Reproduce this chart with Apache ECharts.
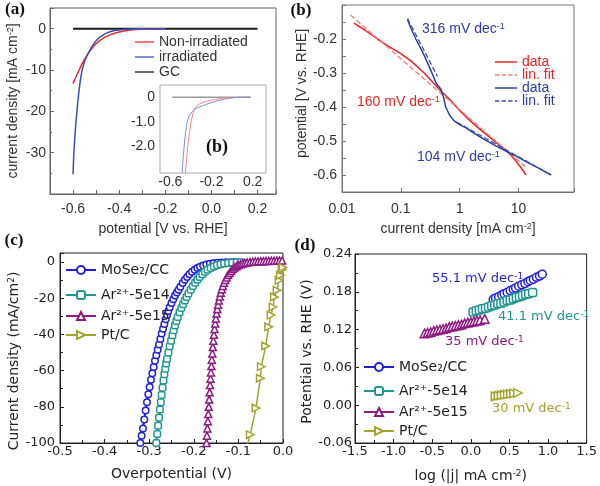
<!DOCTYPE html>
<html><head><meta charset="utf-8">
<script src="https://cdn.jsdelivr.net/npm/echarts@6/dist/echarts.min.js"></script>
<style>html,body{margin:0;padding:0;background:#fff}#c{width:600px;height:486px}</style>
</head><body><div id="c"></div>
<script>
// ---------- Panel (a): LSV curves ----------
const aRedV  = [-0.6, -0.59, -0.58, -0.57, -0.56, -0.55, -0.54, -0.53, -0.52, -0.51, -0.5, -0.48, -0.46, -0.44, -0.42, -0.4, -0.38, -0.36, -0.34, -0.32, -0.3, -0.28, -0.25, -0.2];
const aRedJ  = [-13.3, -12.0, -10.8, -9.6, -8.4, -7.4, -6.5, -5.6, -4.9, -4.2, -3.6, -2.7, -2.0, -1.5, -1.1, -0.8, -0.55, -0.38, -0.25, -0.16, -0.1, -0.06, -0.03, -0.01];
const aBlueV = [-0.6, -0.598, -0.595, -0.59, -0.585, -0.58, -0.575, -0.57, -0.565, -0.56, -0.55, -0.54, -0.53, -0.52, -0.51, -0.5, -0.49, -0.48, -0.46, -0.44, -0.42, -0.4, -0.38, -0.35, -0.32, -0.28, -0.2];
const aBlueJ = [-35.2, -32.0, -28.5, -24.5, -21.0, -18.0, -15.4, -13.2, -11.3, -9.9, -7.9, -6.6, -5.5, -4.5, -3.6, -2.9, -2.3, -1.9, -1.2, -0.75, -0.45, -0.3, -0.19, -0.1, -0.05, -0.02, 0];
const aGCV   = [-0.6, 0.2];
const aGCJ   = [0, 0];
// inset of (a)
const inRedV  = [-0.453, -0.44, -0.43, -0.414, -0.4, -0.382, -0.366, -0.35, -0.32, -0.28, -0.237, -0.18, -0.11, -0.05, 0.0, 0.18];
const inRedJ  = [-3.1, -2.45, -2.0, -1.45, -1.05, -0.7, -0.5, -0.38, -0.28, -0.21, -0.16, -0.1, -0.05, -0.02, -0.01, 0];
const inBlueV = [-0.485, -0.475, -0.465, -0.453, -0.44, -0.425, -0.414, -0.39, -0.366, -0.33, -0.28, -0.237, -0.18, -0.12, -0.045, 0.02, 0.1, 0.18];
const inBlueJ = [-3.1, -2.5, -2.0, -1.5, -1.1, -0.85, -0.74, -0.6, -0.5, -0.42, -0.34, -0.27, -0.19, -0.12, -0.06, -0.02, 0, 0];
const inGCV   = [-0.58, 0.18];
const inGCJ   = [0, 0];

// ---------- Panel (b): Tafel (log current) ----------
const bRedJ   = [0.016, 0.025, 0.04, 0.06, 0.1, 0.15, 0.25, 0.45, 0.7, 1, 1.5, 2.2, 3.3, 5, 6.7, 9, 11, 13.5];
const bRedV   = [-0.153, -0.175, -0.2, -0.22, -0.243, -0.265, -0.3, -0.348, -0.38, -0.41, -0.44, -0.465, -0.49, -0.515, -0.533, -0.558, -0.578, -0.6];
const bRedFitJ = [0.014, 14];
const bRedFitV = [-0.13, -0.58];
const bBlueJ  = [0.13, 0.15, 0.18, 0.21, 0.26, 0.32, 0.4, 0.48, 0.53, 0.58, 0.68, 0.8, 1.0, 1.3, 1.8, 2.8, 4.2, 6.7, 10, 15, 22, 36];
const bBlueV  = [-0.143, -0.17, -0.2, -0.222, -0.255, -0.29, -0.33, -0.348, -0.37, -0.4, -0.425, -0.44, -0.452, -0.462, -0.478, -0.498, -0.515, -0.533, -0.548, -0.565, -0.58, -0.6];
const bBlueFit1J = [0.13, 0.42];
const bBlueFit1V = [-0.14, -0.31];
const bBlueFit2J = [0.9, 36];
const bBlueFit2V = [-0.445, -0.6];

// ---------- Panel (c): polarization curves ----------
const cMoV = [-0.320, -0.317, -0.314, -0.311, -0.308, -0.305, -0.302, -0.299, -0.296, -0.293, -0.290, -0.287, -0.284, -0.281, -0.278, -0.275, -0.272, -0.269, -0.266, -0.263, -0.260, -0.257, -0.254, -0.250, -0.246, -0.242, -0.238, -0.234, -0.230, -0.225, -0.220, -0.215, -0.210, -0.204, -0.198, -0.192, -0.186, -0.179, -0.172, -0.164, -0.156, -0.147, -0.138, -0.128, -0.118, -0.108];
const cMoJ = [-100, -96, -92, -87, -82, -77.5, -73, -69, -65, -61.5, -58, -54.5, -51.5, -48.5, -45.5, -42.5, -39.5, -36.8, -34.2, -31.6, -29.2, -27, -25, -22.7, -20.5, -18.5, -16.8, -15.3, -13.6, -11.6, -9.8, -8.2, -6.8, -5.4, -4.2, -3.3, -2.6, -1.9, -1.4, -1.0, -0.7, -0.45, -0.28, -0.15, -0.07, -0.02];
const c14V = [-0.284, -0.282, -0.280, -0.278, -0.276, -0.274, -0.272, -0.270, -0.268, -0.266, -0.264, -0.262, -0.260, -0.257, -0.254, -0.251, -0.248, -0.245, -0.242, -0.239, -0.236, -0.232, -0.228, -0.224, -0.220, -0.216, -0.212, -0.207, -0.202, -0.197, -0.192, -0.187, -0.181, -0.175, -0.169, -0.162, -0.155, -0.148, -0.140, -0.132, -0.123, -0.114, -0.104, -0.094];
const c14J = [-100, -95, -90.5, -86, -81.5, -77.5, -73.5, -69.5, -65.5, -62, -59, -56, -53.5, -50, -46.5, -43.5, -40.5, -37.7, -35, -32.6, -30.4, -27.8, -25.4, -23.3, -21.2, -19.3, -17.4, -15.3, -13.3, -11.4, -9.7, -8.2, -6.7, -5.4, -4.3, -3.3, -2.4, -1.8, -1.2, -0.8, -0.5, -0.3, -0.15, -0.05];
const c15V = [-0.1715, -0.1705, -0.1695, -0.1685, -0.1675, -0.1665, -0.1655, -0.1645, -0.1635, -0.1625, -0.1615, -0.1605, -0.1595, -0.1585, -0.1573, -0.1561, -0.1549, -0.1535, -0.1520, -0.1505, -0.1490, -0.1473, -0.1455, -0.1436, -0.1416, -0.1395, -0.1372, -0.1348, -0.1322, -0.1294, -0.1264, -0.1232, -0.1198, -0.1162, -0.1124, -0.1084, -0.1042, -0.0998, -0.0952, -0.0904, -0.0854, -0.0802, -0.074, -0.068, -0.062, -0.056, -0.050, -0.044, -0.038, -0.032, -0.026, -0.020, -0.014, -0.008, -0.002];
const c15J = [-100, -96, -92, -88, -84, -80, -76, -72, -68, -64.5, -61, -57.5, -54, -50.5, -47, -43.5, -40.2, -37, -34, -31.2, -28.5, -26, -23.6, -21.3, -19.1, -17, -15, -13.2, -11.5, -9.9, -8.5, -7.2, -6, -4.9, -3.9, -3, -2.3, -1.7, -1.2, -0.8, -0.5, -0.25, 0, 0.2, 0.3, 0.4, 0.5, 0.5, 0.6, 0.6, 0.7, 0.7, 0.8, 0.8, 0.8];
const cPtV = [-0.081, -0.0734, -0.0606, -0.0509, -0.0487, -0.0389, -0.0322, -0.0269, -0.0224, -0.0194, -0.0135, -0.009, -0.006, -0.0022, 0.0];
const cPtJ = [-102, -95.4, -80.7, -64.2, -57.8, -46.4, -35.8, -29.3, -24.8, -19.3, -15.6, -10.1, -7.3, -4.2, -3.0];

// ---------- Panel (d): Tafel plots ----------
const dMoX = [0.29, 0.32, 0.36, 0.40, 0.43, 0.47, 0.51, 0.55, 0.58, 0.62, 0.66, 0.70, 0.74, 0.77, 0.81, 0.85, 0.89, 0.925];
const dMoY = [0.168, 0.170, 0.172, 0.175, 0.177, 0.179, 0.182, 0.184, 0.186, 0.189, 0.191, 0.193, 0.196, 0.198, 0.200, 0.203, 0.205, 0.208];
const d14X = [0.03, 0.07, 0.11, 0.15, 0.19, 0.23, 0.27, 0.31, 0.35, 0.39, 0.43, 0.47, 0.51, 0.55, 0.59, 0.63, 0.67, 0.71, 0.75, 0.80];
const d14Y = [0.148, 0.150, 0.151, 0.153, 0.154, 0.156, 0.158, 0.159, 0.161, 0.162, 0.164, 0.166, 0.167, 0.169, 0.171, 0.172, 0.174, 0.176, 0.177, 0.179];
const d15X = [-0.60, -0.56, -0.52, -0.48, -0.44, -0.40, -0.36, -0.32, -0.28, -0.24, -0.20, -0.16, -0.12, -0.08, -0.04, 0.00, 0.04, 0.08, 0.12, 0.18];
const d15Y = [0.114, 0.115, 0.116, 0.118, 0.119, 0.120, 0.121, 0.122, 0.124, 0.125, 0.126, 0.127, 0.128, 0.130, 0.131, 0.132, 0.133, 0.134, 0.135, 0.137];
const dPtX = [0.32, 0.36, 0.40, 0.44, 0.48, 0.52, 0.56, 0.61];
const dPtY = [0.0142, 0.0150, 0.0157, 0.0165, 0.0172, 0.0180, 0.0187, 0.0195];

// names / labels
const legendA = ['Non-irradiated', 'irradiated', 'GC'];
const namesC = ['MoSe\u2082/CC', 'Ar\u00B2\u207A-5e14', 'Ar\u00B2\u207A-5e15', 'Pt/C'];
const dNamesD = namesC.map(n => n + ' ');

const zip = (xs, ys) => xs.map((x, i) => [x, ys[i]]);
const F1 = 'Liberation Sans, Arial, sans-serif';
const F2 = 'DejaVu Sans, Verdana, sans-serif';
const FS = 'Liberation Serif, Times New Roman, serif';

const colA = {red: '#ec2a2a', blue: '#3b4fb8', gc: '#1a1a1a'};
const colB = {red: '#e52525', redFit: '#f07a7a', blue: '#2c3d9f', blueFit: '#3d4fb0'};
const colC = ['#1f1fd8', '#1f968f', '#8c1b82', '#a3a330'];
const symC = ['circle', 'roundRect', 'triangle', 'triangle'];
const rotC = [0, 0, 0, -90];

const supRich = (size) => ({sup: {fontSize: size, verticalAlign: 'top', lineHeight: size}});
const LINE_ICON = 'path://M0,0h30v2h-30z';
const DASH_ICON = 'path://M0,0h6v2h-6z M9,0h6v2h-6z M18,0h6v2h-6z M27,0h3v2h-3z';

function frameAxisStyle(color) {
  return {
    axisLine: {show: true, onZero: false, lineStyle: {color: color, width: 1}},
    axisTick: {show: true, inside: true, length: 4, lineStyle: {color: color}},
    splitLine: {show: false}
  };
}

const xAxes = [
  // 0: (a) main
  Object.assign({gridIndex: 0, type: 'value', min: -0.7, max: 0.28, interval: 0.1,
    axisLabel: {margin: 8, fontFamily: F1, fontSize: 14, color: '#333',
      formatter: v => { const k = Math.round(v * 10); return (k % 2 === 0 && k >= -6 && k <= 2) ? (k / 10).toFixed(1) : ''; }},
    name: 'potential [V vs. RHE]', nameLocation: 'middle', nameGap: 28,
    nameTextStyle: {fontFamily: F1, fontSize: 14, color: '#333'}}, frameAxisStyle('#666')),
  // 1: (a) inset
  {gridIndex: 1, type: 'value', min: -0.7, max: 0.33, interval: 0.1,
    axisLine: {show: false, onZero: false}, axisTick: {show: false}, splitLine: {show: false},
    axisLabel: {margin: 2, fontFamily: F1, fontSize: 14, color: '#333',
      formatter: v => { const k = Math.round(v * 10); return (k === -6 || k === -2 || k === 2) ? (k / 10).toFixed(1) : ''; }}},
  // 2: (b)
  Object.assign({gridIndex: 2, type: 'log', logBase: 10, min: 0.01, max: 88,
    axisLabel: {margin: 10, fontFamily: F1, fontSize: 14, color: '#333',
      formatter: v => { const l = Math.log10(v); const r = Math.round(l); if (Math.abs(l - r) > 1e-6 || r > 1) return ''; return ({'-2': '0.01', '-1': '0.1', '0': '1', '1': '10'})[String(r)]; }},
    name: 'current density [mA cm{sup|-2}]', nameLocation: 'middle', nameGap: 30,
    nameTextStyle: {fontFamily: F1, fontSize: 14, color: '#333', rich: supRich(9)}}, frameAxisStyle('#777')),
  // 3: (c)
  Object.assign({gridIndex: 3, type: 'value', min: -0.5, max: 0, interval: 0.1,
    minorTick: {show: true, splitNumber: 2, length: 3, lineStyle: {color: '#222'}},
    axisLabel: {margin: 2, fontFamily: F2, fontSize: 13, color: '#222', formatter: v => Math.abs(v) < 1e-9 ? '0.0' : v.toFixed(1)},
    name: 'Overpotential (V)', nameLocation: 'middle', nameGap: 24,
    nameTextStyle: {fontFamily: F2, fontSize: 14, color: '#222'}}, frameAxisStyle('#222')),
  // 4: (d)
  Object.assign({gridIndex: 4, type: 'value', min: -1.5, max: 1.5, interval: 0.5,
    minorTick: {show: true, splitNumber: 2, length: 3, lineStyle: {color: '#222'}},
    axisLabel: {margin: 2, fontFamily: F2, fontSize: 13, color: '#222', formatter: v => Math.abs(v) < 1e-9 ? '0.0' : v.toFixed(1)},
    name: 'log (|j| mA cm{sup|-2})', nameLocation: 'middle', nameGap: 26,
    nameTextStyle: {fontFamily: F2, fontSize: 14, color: '#222', rich: supRich(9)}}, frameAxisStyle('#222'))
];

const yAxes = [
  Object.assign({gridIndex: 0, type: 'value', min: -40, max: 5, interval: 10,
    minorTick: {show: true, splitNumber: 2, length: 2, lineStyle: {color: '#666'}},
    axisLabel: {margin: 4, fontFamily: F1, fontSize: 14, color: '#333', formatter: v => (v > 0.5 || v < -35) ? '' : String(Math.round(v))},
    name: 'current density [mA cm{sup|-2}]', nameLocation: 'middle', nameGap: 30,
    nameTextStyle: {fontFamily: F1, fontSize: 14, color: '#333', rich: supRich(9)}}, frameAxisStyle('#666')),
  {gridIndex: 1, type: 'value', min: -3.1, max: 0.5, interval: 0.1,
    axisLine: {show: false, onZero: false}, axisTick: {show: false}, splitLine: {show: false},
    axisLabel: {margin: 5, fontFamily: F1, fontSize: 14, color: '#333',
      formatter: v => { const r = Math.round(v); if (Math.abs(v - r) > 1e-6 || r > 0 || r < -2) return ''; return r === 0 ? '0' : r.toFixed(1); }}},
  Object.assign({gridIndex: 2, type: 'value', min: -0.65, max: -0.1, interval: 0.05,
    axisLabel: {margin: 5, fontFamily: F1, fontSize: 14, color: '#333',
      formatter: v => { const k = Math.round(v * 20); return (k % 2 === 0 && k <= -4 && k >= -12) ? (k / 20).toFixed(1) : ''; }},
    name: 'potential [V vs. RHE]', nameLocation: 'middle', nameGap: 30,
    nameTextStyle: {fontFamily: F1, fontSize: 14, color: '#333', padding: [0, 0, 0, 10]}}, frameAxisStyle('#777')),
  Object.assign({gridIndex: 3, type: 'value', min: -100, max: 5, interval: 20,
    minorTick: {show: true, splitNumber: 2, length: 3, lineStyle: {color: '#222'}},
    axisLabel: {margin: 5, fontFamily: F2, fontSize: 13, color: '#222', formatter: v => v > 0.5 ? '' : String(Math.round(v))},
    name: 'Current density (mA/cm{sup|2})', nameLocation: 'middle', nameGap: 31,
    nameTextStyle: {fontFamily: F2, fontSize: 14, color: '#222', rich: supRich(9), padding: [0, 26, 0, 0]}}, frameAxisStyle('#222')),
  Object.assign({gridIndex: 4, type: 'value', min: -0.06, max: 0.24, interval: 0.06,
    minorTick: {show: true, splitNumber: 2, length: 3, lineStyle: {color: '#222'}},
    axisLabel: {margin: 3, fontFamily: F2, fontSize: 13, color: '#222', formatter: v => Math.abs(v) < 1e-9 ? '0.00' : v.toFixed(2)},
    name: 'Potential vs. RHE (V)', nameLocation: 'middle', nameGap: 39,
    nameTextStyle: {fontFamily: F2, fontSize: 14, color: '#222', padding: [0, 6, 0, 0]}}, frameAxisStyle('#222'))
];

const grids = [
  {left: 50, top: 8, width: 226, height: 186, show: true, borderColor: '#666', borderWidth: 1, backgroundColor: 'transparent'},
  {left: 160, top: 85, width: 106, height: 88, show: true, borderColor: '#aaa', borderWidth: 1, backgroundColor: '#fff'},
  {left: 342, top: 5, width: 232, height: 187, show: true, borderColor: '#777', borderWidth: 1},
  {left: 60, top: 253, width: 223, height: 190, show: true, borderColor: '#222', borderWidth: 1},
  {left: 355, top: 254, width: 232, height: 189, show: true, borderColor: '#222', borderWidth: 1}
];

function plain(name, xi, data, color, width, type, z) {
  return {type: 'line', name: name, xAxisIndex: xi, yAxisIndex: xi, data: data, symbol: 'none',
    color: color, lineStyle: {color: color, width: width, type: type || 'solid'}, z: z || 2, silent: true};
}
function marked(name, xi, data, k, size, lw) {
  return {type: 'line', name: name, xAxisIndex: xi, yAxisIndex: xi, data: data, symbol: symC[k], symbolSize: size,
    symbolRotate: rotC[k], showSymbol: true, showAllSymbol: true, color: colC[k],
    itemStyle: {color: '#fff', borderColor: colC[k], borderWidth: 1.5},
    lineStyle: {color: colC[k], width: lw}, z: 3 + k, silent: true};
}

const series = [
  plain(legendA[2], 0, zip(aGCV, aGCJ), colA.gc, 2),
  plain(legendA[0], 0, zip(aRedV, aRedJ), colA.red, 1.5),
  plain(legendA[1], 0, zip(aBlueV, aBlueJ), colA.blue, 1.5),
  plain('inset GC', 1, zip(inGCV, inGCJ), '#999', 1.5, 'solid', 5),
  plain('inset red', 1, zip(inRedV, inRedJ), '#f08a8a', 1, 'solid', 5),
  plain('inset blue', 1, zip(inBlueV, inBlueJ), '#8090d0', 1, 'solid', 5),
  plain('data', 2, zip(bRedJ, bRedV), colB.red, 1.5),
  plain('lin. fit', 2, zip(bRedFitJ, bRedFitV), colB.redFit, 1.3, 'dashed'),
  plain('data ', 2, zip(bBlueJ, bBlueV), colB.blue, 1.5),
  plain('lin. fit ', 2, zip(bBlueFit1J, bBlueFit1V), colB.blueFit, 1.3, 'dashed'),
  plain('lin. fit  ', 2, zip(bBlueFit2J, bBlueFit2V), colB.blueFit, 1.3, 'dashed'),
  marked(namesC[0], 3, zip(cMoV, cMoJ), 0, 6.5, 2),
  marked(namesC[1], 3, zip(c14V, c14J), 1, 6.5, 2),
  marked(namesC[2], 3, zip(c15V, c15J), 2, 7, 2),
  marked(namesC[3], 3, zip(cPtV, cPtJ), 3, 7.5, 1.5),
  marked(dNamesD[0], 4, zip(dMoX, dMoY), 0, 8, 2),
  marked(dNamesD[1], 4, zip(d14X, d14Y), 1, 8, 2),
  marked(dNamesD[2], 4, zip(d15X, d15Y), 2, 8.5, 2),
  marked(dNamesD[3], 4, zip(dPtX, dPtY), 3, 8.5, 2)
];

function oneLegend(name, left, cy, opt) {
  return Object.assign({show: true, selectedMode: false, data: [name], left: left, top: cy - 8,
    orient: 'vertical', padding: 0, itemGap: 0, itemWidth: 30, itemHeight: 10,
    formatter: n => n.trim(),
    textStyle: {fontFamily: F2, fontSize: 14, color: '#222', padding: [0, 0, 0, 0]}}, opt || {});
}
const legAB = (color, dashed, w) => ({itemWidth: w, itemHeight: 2, icon: dashed ? DASH_ICON : LINE_ICON,
  textStyle: {fontFamily: F1, fontSize: 14, color: color}});
const legends = [
  oneLegend(legendA[0], 135, 43, legAB('#333', false, 19)),
  oneLegend(legendA[1], 135, 58, legAB('#333', false, 19)),
  oneLegend(legendA[2], 135, 73, legAB('#333', false, 19)),
  oneLegend('data', 495, 63, legAB(colB.red, false, 22)),
  oneLegend('lin. fit', 495, 76, legAB(colB.red, true, 22)),
  oneLegend('data ', 495, 89, legAB(colB.blue, false, 22)),
  oneLegend('lin. fit ', 495, 102, legAB(colB.blue, true, 22)),
  oneLegend(namesC[0], 65, 271), oneLegend(namesC[1], 65, 296), oneLegend(namesC[2], 65, 317), oneLegend(namesC[3], 65, 336),
  oneLegend(dNamesD[0], 363, 368), oneLegend(dNamesD[1], 363, 392), oneLegend(dNamesD[2], 363, 413), oneLegend(dNamesD[3], 363, 432)
];

function label(text, x, y, size) {
  return {type: 'text', x: x, y: y, z: 100, silent: true,
    style: {text: text, fontFamily: FS, fontWeight: 'bold', fontSize: size || 17, fill: '#111', align: 'center', verticalAlign: 'middle'}};
}
function annot(text, x, y, color, fam, size) {
  return {type: 'text', x: x, y: y, z: 100, silent: true,
    style: {text: text, fontFamily: fam, fontSize: size || 14, fill: color, align: 'left', verticalAlign: 'middle',
      rich: {sup: {fontSize: 9, verticalAlign: 'top', lineHeight: 9, fill: color, fontFamily: fam}}}};
}
const graphics = [
  label('(a)', 15, 10), label('(b)', 301, 11), label('(c)', 14, 241), label('(d)', 305, 246),
  label('(b)', 217, 147, 18),
  annot('316 mV dec{sup|-1}', 422, 29, colB.blue, F1),
  annot('160 mV dec{sup|-1}', 357, 102, colB.red, F1),
  annot('104 mV dec{sup|-1}', 417, 157, colB.blue, F1),
  annot('55.1 mV dec{sup|-1}', 432, 279, colC[0], F2, 13),
  annot('41.1 mV dec{sup|-1}', 498, 317, colC[1], F2, 13),
  annot('35 mV dec{sup|-1}', 445, 342, colC[2], F2, 13),
  annot('30 mV dec{sup|-1}', 492, 409, colC[3], F2, 13)
];

const chart = echarts.init(document.getElementById('c'), null, {renderer: 'canvas'});
chart.setOption({
  animation: false,
  backgroundColor: '#fff',
  textStyle: {fontFamily: F1},
  grid: grids,
  xAxis: xAxes,
  yAxis: yAxes,
  legend: legends,
  series: series,
  graphic: graphics
});
</script></body></html>
